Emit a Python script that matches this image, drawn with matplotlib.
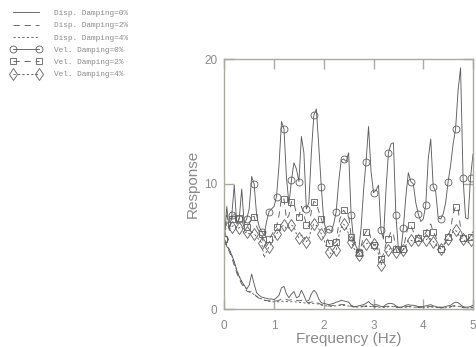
import numpy as np
import matplotlib
matplotlib.use("Agg")
import matplotlib.pyplot as plt
from matplotlib.lines import Line2D

plt.rcParams['lines.scale_dashes'] = False

# Frequency grid (Hz)
freq = np.linspace(0.0, 5.0, 101)

vel_0 = [5.6, 8.2, 6.3, 7.5, 9.9, 6.8, 7.2, 9.6, 6.8, 7.2,
         8.0, 10.6, 10.0, 7.5, 6.6, 6.2, 5.9, 7.0, 7.8, 8.0,
         8.2, 9.0, 11.5, 15.0, 14.4, 10.5, 8.4, 10.3, 11.7, 11.2,
         10.2, 13.8, 12.5, 8.0, 8.5, 12.5, 15.5, 16.0, 13.0, 9.8,
         7.0, 6.3, 6.4, 6.2, 6.8, 7.8, 10.2, 11.9, 12.0, 11.8,
         12.5, 7.5, 5.5, 5.0, 4.6, 6.5, 9.5, 11.8, 14.6, 11.0,
         9.3, 9.5, 9.9, 6.3, 5.6, 9.5, 12.5, 13.2, 13.3, 7.5,
         4.8, 4.6, 6.5, 9.0, 10.9, 10.2, 10.0, 8.5, 7.6, 7.0,
         7.2, 8.3, 12.0, 13.6, 9.8, 9.4, 7.3, 7.2, 7.6, 8.5,
         10.2, 11.5, 13.2, 14.4, 17.5, 19.3, 10.5, 7.3, 7.2, 10.5, 12.4]

vel_2 = [5.6, 7.5, 6.5, 7.2, 7.8, 6.8, 7.3, 7.2, 6.5, 6.6,
         6.8, 7.4, 7.4, 6.6, 6.2, 6.0, 5.0, 5.4, 5.6, 5.9,
         6.3, 6.6, 7.5, 8.9, 8.8, 7.2, 7.5, 8.6, 8.5, 7.6,
         7.4, 8.2, 7.6, 6.7, 6.6, 7.8, 8.6, 8.5, 7.8, 7.2,
         6.6, 6.0, 5.3, 5.1, 5.2, 5.4, 6.8, 7.6, 7.9, 7.6,
         7.5, 5.8, 5.2, 4.8, 4.5, 5.0, 5.8, 6.2, 6.4, 5.6,
         5.1, 5.2, 5.0, 4.0, 4.4, 5.2, 5.6, 6.2, 6.0, 4.8,
         4.4, 4.5, 4.8, 5.8, 6.7, 6.7, 6.2, 5.9, 5.7, 5.6,
         5.8, 6.1, 6.6, 6.8, 6.2, 5.8, 5.2, 4.8, 5.0, 5.4,
         5.8, 6.4, 7.6, 8.2, 8.0, 6.5, 5.7, 5.4, 5.5, 5.8, 6.2]

vel_4 = [5.6, 7.0, 6.3, 6.6, 6.7, 6.4, 6.5, 6.6, 6.0, 6.2,
         6.0, 6.2, 6.0, 5.8, 5.5, 5.3, 4.1, 4.6, 5.0, 5.3,
         5.6, 6.0, 6.3, 6.6, 6.7, 6.4, 6.5, 6.7, 6.6, 6.0,
         5.7, 5.9, 5.8, 5.4, 5.6, 6.4, 6.8, 6.7, 6.4, 6.0,
         5.6, 5.0, 4.6, 4.4, 4.5, 4.7, 5.8, 6.5, 6.8, 6.5,
         6.0, 5.4, 4.9, 4.6, 4.3, 4.6, 5.0, 5.2, 5.3, 5.2,
         5.2, 5.0, 4.4, 3.5, 4.0, 4.5, 4.7, 4.9, 4.8, 4.6,
         4.5, 4.5, 4.7, 5.1, 5.5, 5.5, 5.4, 5.3, 5.5, 5.4,
         5.5, 5.5, 5.7, 5.6, 5.4, 5.2, 4.9, 4.8, 5.0, 5.3,
         5.6, 5.9, 6.2, 6.3, 6.0, 5.7, 5.6, 5.4, 5.3, 5.5, 5.6]

disp_0 = [5.6, 5.0, 4.8, 4.3, 3.8, 3.1, 2.6, 2.2, 1.9, 1.6,
          1.9, 2.8, 2.0, 1.3, 1.1, 0.95, 0.9, 0.85, 0.8, 0.8,
          0.75, 0.9, 1.1, 1.7, 1.8, 1.2, 0.9, 1.2, 1.4, 0.9,
          1.0, 1.5, 1.1, 0.6, 0.7, 1.2, 1.5, 1.3, 0.8, 0.5,
          0.45, 0.4, 0.35, 0.4, 0.45, 0.55, 0.6, 0.7, 0.65, 0.6,
          0.55, 0.3, 0.2, 0.2, 0.25, 0.3, 0.35, 0.45, 0.6, 0.4,
          0.3, 0.35, 0.3, 0.2, 0.2, 0.35, 0.45, 0.45, 0.4, 0.25,
          0.15, 0.15, 0.2, 0.3, 0.35, 0.3, 0.3, 0.25, 0.2, 0.2,
          0.2, 0.25, 0.3, 0.35, 0.25, 0.2, 0.15, 0.15, 0.15, 0.2,
          0.25, 0.3, 0.45, 0.55, 0.5, 0.35, 0.2, 0.15, 0.15, 0.2, 0.3]

disp_2 = [5.6, 5.0, 4.6, 4.1, 3.5, 2.9, 2.4, 2.0, 1.7, 1.45,
          1.35, 1.4, 1.2, 1.0, 0.85, 0.75, 0.7, 0.68, 0.65, 0.65,
          0.62, 0.65, 0.7, 0.8, 0.85, 0.75, 0.7, 0.75, 0.8, 0.7,
          0.65, 0.7, 0.65, 0.55, 0.5, 0.55, 0.6, 0.55, 0.45, 0.35,
          0.3, 0.28, 0.25, 0.25, 0.28, 0.3, 0.32, 0.35, 0.35, 0.33,
          0.3, 0.22, 0.18, 0.17, 0.18, 0.2, 0.22, 0.25, 0.28, 0.25,
          0.2, 0.2, 0.18, 0.15, 0.15, 0.2, 0.22, 0.25, 0.22, 0.18,
          0.12, 0.12, 0.13, 0.18, 0.2, 0.2, 0.18, 0.16, 0.14, 0.13,
          0.13, 0.15, 0.18, 0.2, 0.18, 0.15, 0.12, 0.1, 0.1, 0.12,
          0.15, 0.18, 0.25, 0.3, 0.28, 0.2, 0.13, 0.1, 0.1, 0.12, 0.15]

disp_4 = [5.6, 5.1, 4.7, 4.3, 3.7, 3.1, 2.6, 2.2, 1.85, 1.6,
          1.4, 1.3, 1.15, 1.0, 0.9, 0.8, 0.72, 0.66, 0.62, 0.6,
          0.57, 0.57, 0.58, 0.62, 0.63, 0.6, 0.57, 0.58, 0.6, 0.55,
          0.52, 0.53, 0.5, 0.45, 0.42, 0.44, 0.46, 0.44, 0.38, 0.32,
          0.28, 0.25, 0.23, 0.22, 0.24, 0.25, 0.27, 0.28, 0.28, 0.26,
          0.24, 0.2, 0.17, 0.15, 0.16, 0.17, 0.18, 0.2, 0.22, 0.2,
          0.17, 0.17, 0.15, 0.13, 0.13, 0.16, 0.18, 0.2, 0.18, 0.15,
          0.11, 0.11, 0.12, 0.15, 0.17, 0.17, 0.15, 0.14, 0.12, 0.11,
          0.11, 0.12, 0.15, 0.17, 0.15, 0.13, 0.1, 0.09, 0.09, 0.1,
          0.12, 0.15, 0.2, 0.24, 0.22, 0.17, 0.11, 0.09, 0.09, 0.1, 0.12]

labels = ["Disp. Damping=0%", "Disp. Damping=2%", "Disp. Damping=4%",
          "Vel. Damping=0%", "Vel. Damping=2%", "Vel. Damping=4%"]
x_ticks = [0, 1, 2, 3, 4, 5]
y_ticks = [0, 10, 20]

LINE = '#5e5e5e'
AXC = '#aaaa9e'
TXT = '#8a8a8a'
DASH2 = (0, (4.5, 3.5))
DOT4 = (0, (1.6, 1.6))
LW = 0.65

fig = plt.figure(figsize=(4.76, 3.47), dpi=100)
ax = fig.add_axes([224.3 / 476, 1 - 309 / 347, (473 - 224.3) / 476, (309 - 59) / 347])

series = [
    (disp_0, '-', None),
    (disp_2, DASH2, None),
    (disp_4, DOT4, None),
    (vel_0, '-', 'o'),
    (vel_2, DASH2, 's'),
    (vel_4, DOT4, 'd'),
]
handles = []
for (vals, ls, mk), lab in zip(series, labels):
    kw = dict(color=LINE, lw=LW, linestyle=ls)
    if mk:
        ms = 5 if mk != 'd' else 6
        ax.plot(freq, vals, marker=mk, markevery=3, markersize=ms,
                markerfacecolor='none', markeredgecolor=LINE, markeredgewidth=0.6,
                clip_on=True, **kw)
        handles.append(Line2D([], [], marker=mk, markersize=ms,
                              markerfacecolor='none', markeredgecolor=LINE,
                              markeredgewidth=0.6, label=lab, **kw))
    else:
        ax.plot(freq, vals, clip_on=True, **kw)
        handles.append(Line2D([], [], label=lab, **kw))

ax.set_xlim(0, 5)
ax.set_ylim(0, 20)
ax.set_xticks(x_ticks)
ax.set_yticks(y_ticks)
ax.set_xticklabels([str(t) for t in x_ticks])
ax.set_yticklabels([str(t) for t in y_ticks])

for s in ax.spines.values():
    s.set_color(AXC)
    s.set_linewidth(1.0)

ax.tick_params(axis='both', direction='in', length=7, width=1.0, color=AXC,
               labelcolor=TXT, labelsize=8.5, top=True, right=True)
ax.tick_params(axis='x', pad=8)
ax.tick_params(axis='y', pad=5)
for lab in ax.get_xticklabels() + ax.get_yticklabels():
    lab.set_fontfamily('Liberation Sans')

ax.set_xlabel('Frequency (Hz)', fontsize=11, color=TXT, family='Liberation Sans')
ax.set_ylabel('Response', fontsize=11, color=TXT, family='Liberation Sans')
ax.xaxis.set_label_coords(0.5, -(332 - 309) / 250)
ax.yaxis.set_label_coords(-(224.3 - 200) / 248.7, 0.5)

fig.legend(handles=handles, loc='upper left', bbox_to_anchor=(0.016, 0.981),
           frameon=False, numpoints=2, handlelength=3.9, handletextpad=1.6,
           labelspacing=0.62, borderaxespad=0.0,
           prop={'family': 'Liberation Mono', 'size': 5.6}, labelcolor=TXT)

fig.savefig('out.png', dpi=100)
